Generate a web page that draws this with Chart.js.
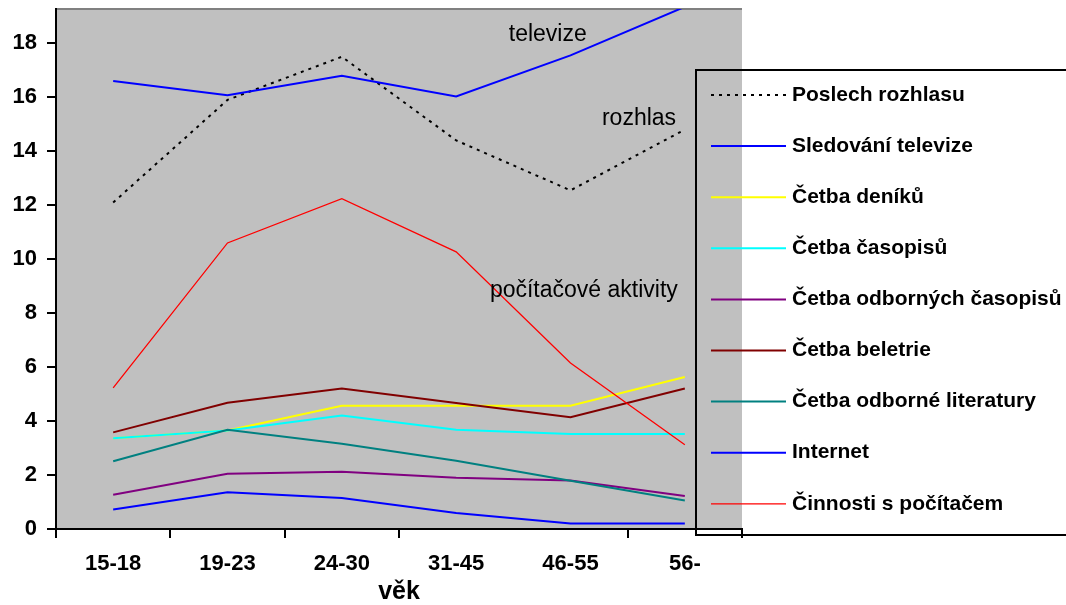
<!DOCTYPE html>
<html>
<head>
<meta charset="utf-8">
<script src="https://cdn.jsdelivr.net/npm/chart.js@4/dist/chart.umd.min.js"></script>
<style>
  html, body { margin: 0; padding: 0; background: #fff; }
  #wrap { width: 1066px; height: 605px; }
</style>
</head>
<body>
<div id="wrap"><canvas id="chart" width="1066" height="605"></canvas></div>
<script>
// ---- data ----
const ages    = ['15-18', '19-23', '24-30', '31-45', '46-55', '56-'];
const yTicks  = [0, 2, 4, 6, 8, 10, 12, 14, 16, 18];

const radio     = [12.1, 15.9, 17.5, 14.4, 12.55, 14.8];   // Poslech rozhlasu
const tv        = [16.6, 16.07, 16.8, 16.03, 17.55, 19.35]; // Sledování televize
const papers    = [3.36, 3.65, 4.57, 4.57, 4.57, 5.63];    // Četba deníků
const magazines = [3.36, 3.65, 4.21, 3.68, 3.52, 3.52];    // Četba časopisů
const proMags   = [1.27, 2.05, 2.12, 1.9, 1.8, 1.22];      // Četba odborných časopisů
const fiction   = [3.58, 4.68, 5.21, 4.67, 4.14, 5.21];    // Četba beletrie
const proBooks  = [2.51, 3.68, 3.16, 2.53, 1.79, 1.06];    // Četba odborné literatury
const internet  = [0.72, 1.36, 1.15, 0.59, 0.2, 0.2];      // Internet
const computer  = [5.23, 10.6, 12.24, 10.27, 6.15, 3.12];  // Činnosti s počítačem

const labels = ['Poslech rozhlasu', 'Sledování televize', 'Četba deníků', 'Četba časopisů',
  'Četba odborných časopisů', 'Četba beletrie', 'Četba odborné literatury', 'Internet',
  'Činnosti s počítačem'];
const series = [radio, tv, papers, magazines, proMags, fiction, proBooks, internet, computer];
const colors = ['#000000', '#0000ff', '#ffff00', '#00ffff', '#800080', '#800000', '#008080', '#0000ff', '#ff0000'];

// text labels placed in the plot: [text, category position, value]
const notes = [
  ['televize', 3.46, 18.07],
  ['rozhlas', 4.275, 14.98],
  ['počítačové aktivity', 3.295, 8.61]
];

const datasets = series.map((d, i) => ({
  label: labels[i],
  data: d,
  borderColor: colors[i],
  backgroundColor: colors[i],
  borderWidth: i === 8 ? 1.3 : 2,
  borderDash: i === 0 ? [3, 5] : [],
  pointRadius: 0,
  tension: 0,
  fill: false,
  order: -i          // later series drawn on top, like the original
}));

const frame = {
  id: 'frame',
  beforeDraw(chart) {
    const { ctx, chartArea: a } = chart;
    ctx.save();
    ctx.fillStyle = '#c0c0c0';
    ctx.fillRect(a.left, a.top, a.right - a.left, a.bottom - a.top);
    ctx.strokeStyle = '#808080';
    ctx.lineWidth = 2;
    ctx.beginPath(); ctx.moveTo(a.left, a.top); ctx.lineTo(a.right, a.top); ctx.stroke();
    ctx.restore();
  },
  afterDraw(chart) {
    const { ctx } = chart;
    const xs = chart.scales.x, ys = chart.scales.y;
    ctx.save();
    // in-plot notes
    ctx.fillStyle = '#000';
    ctx.font = '23px "Liberation Sans", Arial, sans-serif';
    ctx.textAlign = 'left';
    ctx.textBaseline = 'alphabetic';
    notes.forEach(([t, cx, v]) => ctx.fillText(t, xs.getPixelForValue(cx), ys.getPixelForValue(v)));

    // legend box (no fill, overlaps the plot)
    ctx.strokeStyle = '#000';
    ctx.lineWidth = 2;
    ctx.strokeRect(696, 70, 400, 465);
    ctx.font = 'bold 21px "Liberation Sans", Arial, sans-serif';
    ctx.textBaseline = 'middle';
    chart.data.datasets.forEach((ds, i) => {
      const y = 95 + i * 51.1;
      ctx.strokeStyle = ds.borderColor;
      ctx.lineWidth = ds.borderWidth;
      ctx.setLineDash(ds.borderDash);
      ctx.beginPath(); ctx.moveTo(711, y); ctx.lineTo(786, y); ctx.stroke();
      ctx.setLineDash([]);
      ctx.fillStyle = '#000';
      ctx.fillText(ds.label, 792, y);
    });
    ctx.restore();
  }
};

new Chart(document.getElementById('chart'), {
  type: 'line',
  data: { labels: ages, datasets },
  options: {
    responsive: false,
    animation: false,
    events: [],
    layout: { padding: { top: 9, right: 324, left: 0, bottom: 0 } },
    plugins: { legend: { display: false }, tooltip: { enabled: false } },
    scales: {
      x: {
        offset: true,
        afterFit: s => { s.height = 76; s.paddingLeft = 0; s.paddingRight = 0; },
        border: { color: '#000', width: 2 },
        grid: {
          offset: true,
          drawOnChartArea: false,
          tickLength: 9,
          lineWidth: 2,
          color: c => (c.index === 4 ? 'rgba(0,0,0,0)' : '#000')
        },
        ticks: {
          color: '#000',
          padding: 13,
          maxRotation: 0,
          font: { family: '"Liberation Sans", Arial, sans-serif', size: 22, weight: 'bold' }
        },
        title: {
          display: true,
          text: 'věk',
          color: '#000',
          padding: 0,
          font: { family: '"Liberation Sans", Arial, sans-serif', size: 25, weight: 'bold', lineHeight: 1 }
        }
      },
      y: {
        min: 0,
        max: 19.27,
        afterFit: s => { s.width = 56; s.paddingTop = 0; s.paddingBottom = 0; },
        afterBuildTicks: s => { s.ticks = yTicks.map(v => ({ value: v })); },
        border: { color: '#000', width: 2 },
        grid: { drawOnChartArea: false, tickLength: 9, lineWidth: 2, color: '#000' },
        ticks: {
          color: '#000',
          padding: 10,
          font: { family: '"Liberation Sans", Arial, sans-serif', size: 22, weight: 'bold' }
        }
      }
    }
  },
  plugins: [frame]
});
</script>
</body>
</html>
